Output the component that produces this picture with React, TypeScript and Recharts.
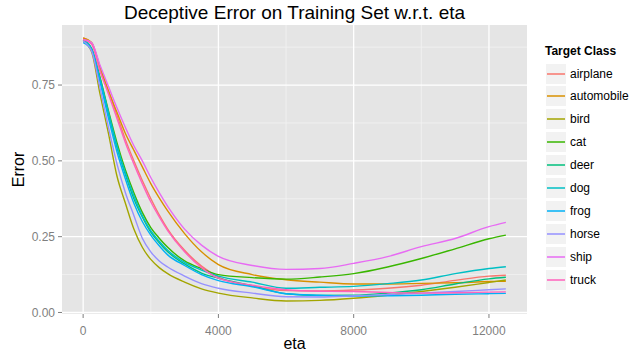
import React from 'react';
import { LineChart, Line, XAxis, YAxis, CartesianGrid, Label } from 'recharts';

const eta = [0, 250, 500, 750, 1000, 1250, 1500, 1750, 2000, 2250, 2500, 3000, 3500, 4000, 5000, 6000, 7000, 8000, 9000, 10000, 11000, 12000, 12500];

const airplane = [0.905, 0.888, 0.80, 0.73, 0.65, 0.57, 0.50, 0.435, 0.376, 0.322, 0.275, 0.205, 0.153, 0.117, 0.087, 0.072, 0.071, 0.074, 0.08, 0.09, 0.106, 0.12, 0.123];
const automobile = [0.905, 0.89, 0.81, 0.73, 0.66, 0.59, 0.535, 0.48, 0.425, 0.378, 0.335, 0.26, 0.2, 0.158, 0.125, 0.108, 0.1, 0.094, 0.094, 0.096, 0.098, 0.102, 0.103];
const bird = [0.895, 0.86, 0.72, 0.59, 0.45, 0.36, 0.275, 0.215, 0.175, 0.148, 0.128, 0.1, 0.078, 0.064, 0.048, 0.038, 0.04, 0.047, 0.057, 0.069, 0.083, 0.099, 0.107];
const cat = [0.90, 0.87, 0.775, 0.665, 0.56, 0.47, 0.395, 0.33, 0.28, 0.245, 0.215, 0.17, 0.145, 0.125, 0.115, 0.11, 0.117, 0.128, 0.15, 0.178, 0.21, 0.243, 0.255];
const deer = [0.90, 0.868, 0.77, 0.655, 0.545, 0.455, 0.375, 0.315, 0.265, 0.23, 0.2, 0.16, 0.13, 0.113, 0.088, 0.062, 0.056, 0.057, 0.064, 0.075, 0.094, 0.111, 0.116];
const dog = [0.90, 0.87, 0.77, 0.66, 0.55, 0.46, 0.385, 0.32, 0.27, 0.235, 0.205, 0.165, 0.14, 0.12, 0.1, 0.08, 0.083, 0.086, 0.095, 0.107, 0.128, 0.145, 0.151];
const frog = [0.89, 0.865, 0.76, 0.64, 0.53, 0.44, 0.36, 0.3, 0.255, 0.22, 0.19, 0.155, 0.125, 0.105, 0.085, 0.062, 0.057, 0.054, 0.055, 0.057, 0.06, 0.062, 0.063];
const horse = [0.895, 0.862, 0.74, 0.61, 0.49, 0.395, 0.32, 0.245, 0.2, 0.17, 0.15, 0.12, 0.095, 0.08, 0.064, 0.052, 0.051, 0.055, 0.059, 0.064, 0.069, 0.075, 0.078];
const ship = [0.90, 0.89, 0.815, 0.745, 0.675, 0.61, 0.55, 0.5, 0.445, 0.395, 0.35, 0.275, 0.222, 0.185, 0.155, 0.142, 0.145, 0.162, 0.184, 0.217, 0.244, 0.283, 0.297];
const truck = [0.90, 0.885, 0.795, 0.72, 0.64, 0.56, 0.49, 0.425, 0.365, 0.315, 0.27, 0.2, 0.148, 0.113, 0.09, 0.075, 0.07, 0.069, 0.066, 0.064, 0.065, 0.067, 0.068];

const classNames = ['airplane', 'automobile', 'bird', 'cat', 'deer', 'dog', 'frog', 'horse', 'ship', 'truck'];
const classValues = [airplane, automobile, bird, cat, deer, dog, frog, horse, ship, truck];
const classColors = ['#F8766D', '#D89000', '#A3A500', '#39B600', '#00BF7D', '#00BFC4', '#00B0F6', '#9590FF', '#E76BF3', '#FF62BC'];

const xTicks = [0, 4000, 8000, 12000];
const xMinor = [2000, 6000, 10000];
const yTicks = [0, 0.25, 0.5, 0.75];
const yMinor = [0.125, 0.375, 0.625, 0.875];

const data = eta.map((e, i) => {
  const row: Record<string, number> = { eta: e };
  classNames.forEach((n, k) => { row[n] = classValues[k][i]; });
  return row;
});

const FONT = '"Liberation Sans", Arial, Helvetica, sans-serif';

export default function App() {
  return (
    <div style={{ position: 'absolute', left: 0, top: 0, width: 641, height: 356, background: '#fff', fontFamily: FONT }}>
      <div style={{ position: 'absolute', left: 0, top: 2, width: 589, textAlign: 'center', fontSize: 19, color: '#000', lineHeight: '22px' }}>
        Deceptive Error on Training Set w.r.t. eta
      </div>
      <LineChart width={641} height={356} data={data} margin={{ top: 25, right: 114, bottom: 0, left: 0 }} style={{ fontFamily: FONT }}>
        <CartesianGrid fill="#E5E5E5" stroke="#F2F2F2" strokeWidth={0.8} horizontalValues={yMinor} verticalValues={xMinor} />
        <CartesianGrid fill="none" stroke="#FFFFFF" strokeWidth={1.3} horizontalValues={yTicks} verticalValues={xTicks} />
        <XAxis dataKey="eta" type="number" domain={[-625, 13125]} ticks={xTicks} allowDataOverflow
          height={42} axisLine={false} tickSize={4} tickMargin={8}
          tickLine={{ stroke: '#7F7F7F' }} tick={{ fill: '#7F7F7F', fontSize: 12 }}>
          <Label value="eta" position="insideBottom" offset={7} style={{ fontSize: 16, fill: '#000' }} />
        </XAxis>
        <YAxis type="number" domain={[-0.005, 0.948]} ticks={yTicks} allowDataOverflow
          width={62} axisLine={false} tickSize={4} tickMargin={3}
          tickFormatter={(v: number) => v.toFixed(2)}
          tickLine={{ stroke: '#7F7F7F' }} tick={{ fill: '#7F7F7F', fontSize: 12 }}>
          <Label value="Error" angle={-90} position="insideLeft" offset={18} style={{ fontSize: 16, fill: '#000', textAnchor: 'middle' }} />
        </YAxis>
        {classNames.map((n, k) => (
          <Line key={n} dataKey={n} type="monotone" stroke={classColors[k]} strokeWidth={1.4} dot={false} isAnimationActive={false} />
        ))}
      </LineChart>
      <div style={{ position: 'absolute', left: 545, top: 44, fontSize: 12, fontWeight: 'bold', color: '#000', lineHeight: '14px' }}>
        Target Class
      </div>
      {classNames.map((n, k) => (
        <div key={n} style={{ position: 'absolute', left: 545, top: 62 + k * 22.9, height: 23, display: 'flex', alignItems: 'center' }}>
          <svg width={22} height={22} style={{ display: 'block' }}>
            <rect x={0.5} y={0.5} width={21} height={21} fill="#F2F2F2" stroke="#fff" strokeWidth={1} />
            <line x1={2} x2={20} y1={11} y2={11} stroke={classColors[k]} strokeWidth={1.5} />
          </svg>
          <span style={{ marginLeft: 3, fontSize: 12, color: '#000' }}>{n}</span>
        </div>
      ))}
    </div>
  );
}
